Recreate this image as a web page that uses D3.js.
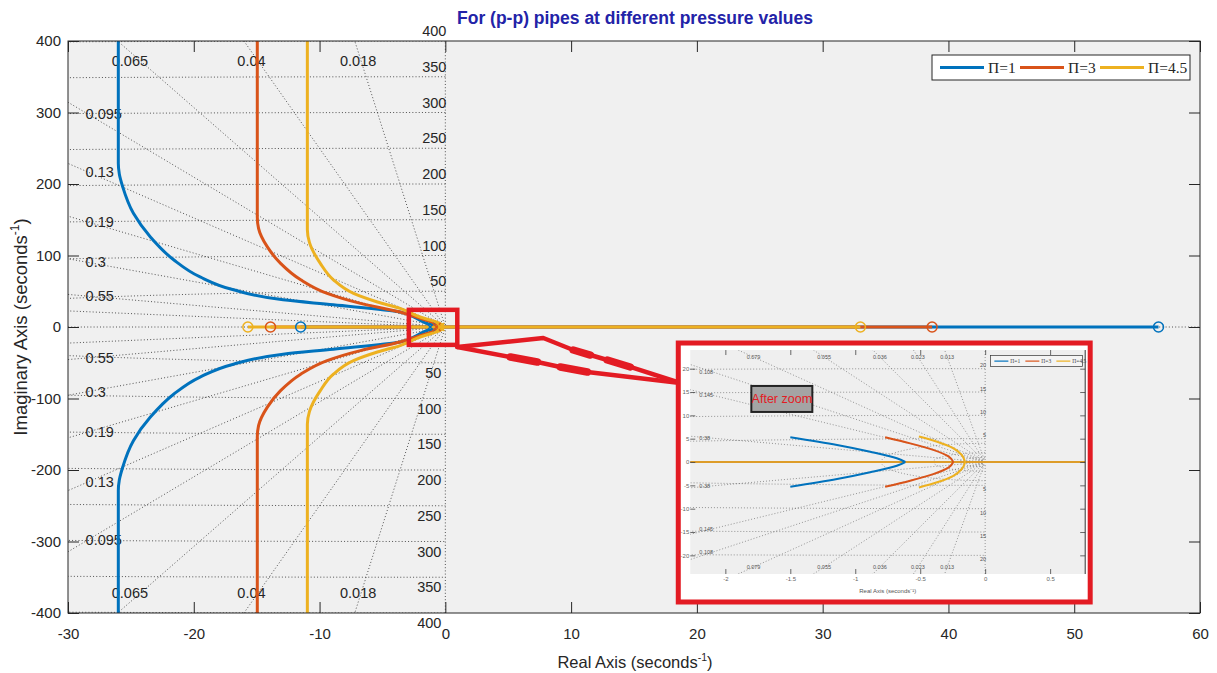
<!DOCTYPE html>
<html><head><meta charset="utf-8">
<script src="https://cdn.jsdelivr.net/npm/d3@7"></script>
<style>
body{margin:0;background:#fff}
svg{display:block}
</style>
</head><body>
<svg id="c" width="1217" height="673" style="font-family:'Liberation Sans',Arial,sans-serif"></svg>
<script>
// ---------------- DATA ----------------
const seriesLabels = ["Π=1", "Π=3", "Π=4.5"];
const seriesColors = ["#0072BD", "#D95319", "#EDB120"];

// upper complex branches (real, imag); lower branches are the mirror image
const branchPi1 = [[-26.0,400],[-26.0,229],[-25.92,214],[-25.65,196],[-24.8,159],[-23.45,126],[-21.6,94],[-19.5,70],[-16.85,52],[-12.9,38],[-8.9,31],[-3.6,21],[-2.4,13],[-1.5,5.3],[-0.885,2.2],[-0.615,0]];
const branchPi3 = [[-14.95,400],[-14.95,154],[-14.85,138],[-14.15,112],[-13.1,89],[-11.5,66],[-9.4,47],[-6.75,33],[-3.6,21],[-2.0,12],[-0.77,5.3],[-0.4,2.6],[-0.245,0]];
const branchPi45 = [[-10.97,400],[-10.97,136],[-10.8,118],[-9.94,89],[-8.9,66],[-7.3,47],[-5.4,35],[-3.6,26],[-2.0,14],[-0.51,5.45],[-0.245,2.95],[-0.154,0]];
const branches = [branchPi1, branchPi3, branchPi45];

const zerosLeft  = [-11.5, -13.9, -15.7];
const zerosRight = [56.7, 38.7, 33.0];
const polesNearOrigin = [-1.2, -0.7, -0.4];

// s-plane grid
const zetaValues = [0.018, 0.04, 0.065, 0.095, 0.13, 0.19, 0.3, 0.55];
const zetaLabels = ["0.018", "0.04", "0.065", "0.095", "0.13", "0.19", "0.3", "0.55"];
const extraZetas = [0.8];
const wnValues = [50, 100, 150, 200, 250, 300, 350, 400];
const wnLabels = ["50", "100", "150", "200", "250", "300", "350", "400"];

const xTicks = [-30, -20, -10, 0, 10, 20, 30, 40, 50, 60];
const yTicks = [-400, -300, -200, -100, 0, 100, 200, 300, 400];

// zoom annotation (main data coordinates)
const zoomBoxX = [-2.9, 0.95], zoomBoxY = [-25, 24];
const insetBoxX = [18.52, 51.27], insetBoxY = [-22.4, -384.6];
const arrowUpper = [[0.95,-28],[7.79,-15.4],[10.17,-32.2],[11.53,-39.2],[12.88,-46.2],[14.7,-55.9],[18.68,-78.3]];
const arrowLower = [[0.95,-28],[5.17,-42],[7.31,-49],[9.14,-55.9],[11.29,-62.9],[18.68,-78.3]];
const arrowBlobs = [[[10.17,-32.2],[11.53,-39.2]],[[12.88,-46.2],[14.7,-55.9]],[[5.17,-42],[7.31,-49]],[[9.14,-55.9],[11.29,-62.9]]];

// inset (zoomed view)
const insetPi1 = [[-1.5,5.3],[-1.14,3.65],[-0.885,2.2],[-0.68,0.8],[-0.615,0]];
const insetPi3 = [[-0.77,5.3],[-0.577,4.0],[-0.4,2.6],[-0.28,1.15],[-0.245,0]];
const insetPi45 = [[-0.51,5.45],[-0.37,4.35],[-0.245,2.95],[-0.18,1.5],[-0.154,0]];
const insetBranches = [insetPi1, insetPi3, insetPi45];
const insetZetas = [0.013, 0.023, 0.036, 0.055, 0.079, 0.108, 0.145, 0.38];
const insetZetaLabels = ["0.013", "0.023", "0.036", "0.055", "0.079", "0.108", "0.145", "0.38"];
const insetWn = [5, 10, 15, 20];
const insetXTicks = [-2, -1.5, -1, -0.5, 0, 0.5];
const insetYTicks = [-20, -15, -10, -5, 0, 5, 10, 15, 20];

// ---------------- CHART ----------------
const svg = d3.select("#c");
const x = d3.scaleLinear().domain([-30, 60]).range([68, 1200]);
const y = d3.scaleLinear().domain([-400, 400]).range([613, 41]);
const [XL, XR] = x.range(), [YB, YT] = y.range();
const ink = "#262626";
const SERIF = "'Liberation Serif','Times New Roman',serif";

const defs = svg.append("defs");
defs.append("clipPath").attr("id", "clipMain").append("rect")
  .attr("x", XL).attr("y", YT).attr("width", XR - XL).attr("height", YB - YT);

svg.append("rect").attr("x", XL).attr("y", YT).attr("width", XR - XL).attr("height", YB - YT).attr("fill", "#f0f0f0");

const line = d3.line().x(d => x(d[0])).y(d => y(d[1]));
const smooth = d3.line().x(d => x(d[0])).y(d => y(d[1])).curve(d3.curveMonotoneY);
const byY = pts => pts.slice().sort((a, b) => a[1] - b[1]);

// grid
const grid = svg.append("g").attr("clip-path", "url(#clipMain)")
  .attr("fill", "none").attr("stroke", "#2a2a2a").attr("stroke-width", 0.8).attr("stroke-dasharray", "1,2.2");
zetaValues.concat(extraZetas).forEach(z => {
  const r = 500, a = -z * r, b = Math.sqrt(1 - z * z) * r;
  grid.append("path").attr("d", line([[0, 0], [a, b]]));
  grid.append("path").attr("d", line([[0, 0], [a, -b]]));
});
wnValues.forEach(w => {
  const pts = d3.range(90, 270.001, 0.5).map(t => [w * Math.cos(t * Math.PI / 180), w * Math.sin(t * Math.PI / 180)]);
  grid.append("path").attr("d", line(pts));
});
grid.append("path").attr("d", line([[0, -400], [0, 400]]));
grid.append("path").attr("d", line([[-30, 0], [60, 0]]));

// grid labels
const gl = svg.append("g").attr("font-size", 14.5).attr("fill", ink);
zetaValues.forEach((z, i) => {
  const s = Math.sqrt(1 - z * z) / z;
  const yl = 28.4 * s;
  [1, -1].forEach(sg => {
    if (yl < 370) {
      gl.append("text").attr("x", x(-28.6)).attr("y", y(sg * yl)).attr("dominant-baseline", "central").text(zetaLabels[i]);
    } else {
      gl.append("text").attr("x", x(-385 / s)).attr("y", y(sg * 372)).attr("text-anchor", "middle")
        .attr("dominant-baseline", "central").text(zetaLabels[i]);
    }
  });
});
wnValues.forEach((w, i) => {
  gl.append("text").attr("x", x(0) + 1).attr("y", y(w) - 5).attr("text-anchor", "end").text(wnLabels[i]);
  gl.append("text").attr("x", x(0) - 4).attr("y", y(-w) + 15).attr("text-anchor", "end").text(wnLabels[i]);
});

// root locus
const loc = svg.append("g").attr("clip-path", "url(#clipMain)").attr("fill", "none");
branches.forEach((br, i) => {
  const c = seriesColors[i];
  const vx = br[br.length - 1][0];
  loc.append("path").attr("d", line([[zerosLeft[i], 0], [vx, 0]])).attr("stroke", c).attr("stroke-width", 3);
  loc.append("path").attr("d", line([[vx, 0], [zerosRight[i], 0]])).attr("stroke", c).attr("stroke-width", 3);
  loc.append("path").attr("d", smooth(byY(br))).attr("stroke", c).attr("stroke-width", 3);
  loc.append("path").attr("d", smooth(byY(br.map(d => [d[0], -d[1]])))).attr("stroke", c).attr("stroke-width", 3);
});
branches.forEach((br, i) => {
  const c = seriesColors[i];
  [zerosLeft[i], zerosRight[i]].forEach(zx => {
    loc.append("circle").attr("cx", x(zx)).attr("cy", y(0)).attr("r", 5).attr("stroke", c).attr("stroke-width", 1.5);
  });
  const px = x(polesNearOrigin[i]), py = y(0);
  loc.append("path").attr("d", `M${px-4},${py-4}L${px+4},${py+4}M${px-4},${py+4}L${px+4},${py-4}`).attr("stroke", c).attr("stroke-width", 1.5);
});

// axes
function styleAxis(g) {
  g.select(".domain").remove();
  g.selectAll("line").attr("stroke", ink);
  g.selectAll("text").attr("fill", ink).attr("font-size", 15).attr("font-family", null);
  g.attr("font-family", null);
}
const fmt = d => String(d);
svg.append("g").attr("transform", `translate(0,${YB})`).call(d3.axisBottom(x).tickValues(xTicks).tickFormat(fmt).tickSizeInner(-11).tickSizeOuter(0).tickPadding(15)).call(styleAxis);
svg.append("g").attr("transform", `translate(0,${YT})`).call(d3.axisTop(x).tickValues(xTicks).tickFormat("").tickSizeInner(-11).tickSizeOuter(0)).call(styleAxis);
svg.append("g").attr("transform", `translate(${XL},0)`).call(d3.axisLeft(y).tickValues(yTicks).tickFormat(fmt).tickSizeInner(-11).tickSizeOuter(0).tickPadding(7)).call(styleAxis);
svg.append("g").attr("transform", `translate(${XR},0)`).call(d3.axisRight(y).tickValues(yTicks).tickFormat("").tickSizeInner(-11).tickSizeOuter(0)).call(styleAxis);
svg.append("rect").attr("x", XL).attr("y", YT).attr("width", XR - XL).attr("height", YB - YT).attr("fill", "none").attr("stroke", ink).attr("stroke-width", 1);

// title & axis labels
svg.append("text").attr("x", 635).attr("y", 24).attr("text-anchor", "middle").attr("font-weight", "bold")
  .attr("font-size", 17.5).attr("fill", "#2323a8").text("For (p-p) pipes at different pressure values");
const xl = svg.append("text").attr("x", 635).attr("y", 668).attr("text-anchor", "middle").attr("font-size", 16.5).attr("fill", ink);
xl.append("tspan").text("Real Axis (seconds");
xl.append("tspan").attr("font-size", 10.5).attr("dy", -7).text("-1");
xl.append("tspan").attr("dy", 7).text(")");
const yl = svg.append("text").attr("transform", "translate(27,327) rotate(-90)").attr("text-anchor", "middle").attr("font-size", 18.5).attr("fill", ink);
yl.append("tspan").text("Imaginary Axis (seconds");
yl.append("tspan").attr("font-size", 12).attr("dy", -8).text("-1");
yl.append("tspan").attr("dy", 8).text(")");

// legend
const lg = svg.append("g");
lg.append("rect").attr("x", 932).attr("y", 55).attr("width", 258).attr("height", 25).attr("fill", "#fff").attr("stroke", ink).attr("stroke-width", 1);
const legX = [940, 1020, 1100];
seriesLabels.forEach((s, i) => {
  lg.append("line").attr("x1", legX[i]).attr("x2", legX[i] + 44).attr("y1", 67.5).attr("y2", 67.5).attr("stroke", seriesColors[i]).attr("stroke-width", 3);
  lg.append("text").attr("x", legX[i] + 48).attr("y", 73).style("font-family", SERIF).attr("font-size", 15.5).attr("fill", ink).text(s);
});

// zoom box + arrow
const red = "#e31b23";
svg.append("rect").attr("x", x(zoomBoxX[0])).attr("y", y(zoomBoxY[1])).attr("width", x(zoomBoxX[1]) - x(zoomBoxX[0]))
  .attr("height", y(zoomBoxY[0]) - y(zoomBoxY[1])).attr("fill", "none").attr("stroke", red).attr("stroke-width", 4.5);
[arrowUpper, arrowLower].forEach(a => svg.append("path").attr("d", line(a)).attr("fill", "none").attr("stroke", red).attr("stroke-width", 4.5).attr("stroke-linejoin", "round").attr("stroke-linecap", "round"));
arrowBlobs.forEach(a => svg.append("path").attr("d", line(a)).attr("fill", "none").attr("stroke", red).attr("stroke-width", 7.5).attr("stroke-linecap", "round"));

// ---------------- INSET ----------------
const bx0 = x(insetBoxX[0]), bx1 = x(insetBoxX[1]), by0 = y(insetBoxY[0]), by1 = y(insetBoxY[1]);
const ins = svg.append("g");
ins.append("rect").attr("x", bx0).attr("y", by0).attr("width", bx1 - bx0).attr("height", by1 - by0).attr("fill", "#fff");
const ix = d3.scaleLinear().domain([-2.27, 0.77]).range([bx0 + 12, bx1 - 5]);
const iy = d3.scaleLinear().domain([-24, 24]).range([by0 + 231, by0 + 7]);
const [iXL, iXR] = ix.range(), [iYB, iYT] = iy.range();
defs.append("clipPath").attr("id", "clipInset").append("rect").attr("x", iXL).attr("y", iYT).attr("width", iXR - iXL).attr("height", iYB - iYT);
ins.append("rect").attr("x", iXL).attr("y", iYT).attr("width", iXR - iXL).attr("height", iYB - iYT).attr("fill", "#efefef");
const iline = d3.line().x(d => ix(d[0])).y(d => iy(d[1]));
const ismooth = d3.line().x(d => ix(d[0])).y(d => iy(d[1])).curve(d3.curveMonotoneY);
const ig = ins.append("g").attr("clip-path", "url(#clipInset)").attr("fill", "none").attr("stroke", "#555").attr("stroke-width", 0.6).attr("stroke-dasharray", "1,2");
insetZetas.forEach(z => {
  const r = 40, a = -z * r, b = Math.sqrt(1 - z * z) * r;
  ig.append("path").attr("d", iline([[0, 0], [a, b]]));
  ig.append("path").attr("d", iline([[0, 0], [a, -b]]));
});
insetWn.forEach(w => {
  const pts = d3.range(90, 270.001, 0.5).map(t => [w * Math.cos(t * Math.PI / 180), w * Math.sin(t * Math.PI / 180)]);
  ig.append("path").attr("d", iline(pts));
});
ig.append("path").attr("d", iline([[0, -24], [0, 24]]));
[0.5, 1, 2].forEach(w => {
  const pts = d3.range(90, 270.001, 1).map(t => [w * 0.4 * Math.cos(t * Math.PI / 180), w * 2 * Math.sin(t * Math.PI / 180)]);
  ig.append("path").attr("d", iline(pts));
});
const itx = ins.append("g").attr("font-size", 5.5).attr("fill", "#555");
insetZetas.forEach((z, i) => {
  const s = Math.sqrt(1 - z * z) / z;
  const xt = -22.5 / s;
  [1, -1].forEach(sg => {
    if (xt > -2.15) itx.append("text").attr("x", ix(xt)).attr("y", iy(sg * 22.6)).attr("text-anchor", "middle").attr("dominant-baseline", "central").text(insetZetaLabels[i]);
    else itx.append("text").attr("x", ix(-2.2)).attr("y", iy(sg * 2.1 * s)).attr("dominant-baseline", "central").text(insetZetaLabels[i]);
  });
});
insetWn.forEach(w => {
  itx.append("text").attr("x", ix(0) + 1).attr("y", iy(w) - 1.5).attr("text-anchor", "end").text(w);
  itx.append("text").attr("x", ix(0) + 1).attr("y", iy(-w) + 6).attr("text-anchor", "end").text(w);
});
const il = ins.append("g").attr("clip-path", "url(#clipInset)").attr("fill", "none");
insetBranches.forEach((br, i) => {
  il.append("path").attr("d", iline([[-2.27, 0], [0.77, 0]])).attr("stroke", seriesColors[i]).attr("stroke-width", 1.5);
});
insetBranches.forEach((br, i) => {
  il.append("path").attr("d", ismooth(byY(br))).attr("stroke", seriesColors[i]).attr("stroke-width", 2);
  il.append("path").attr("d", ismooth(byY(br.map(d => [d[0], -d[1]])))).attr("stroke", seriesColors[i]).attr("stroke-width", 2);
});
function styleInset(g) { g.select(".domain").remove(); g.attr("font-family", null); g.selectAll("line").attr("stroke", "#444").attr("stroke-width", 0.8); g.selectAll("text").attr("fill", "#666").attr("font-size", 6); }
const ifmt = d => String(d);
ins.append("g").attr("transform", `translate(0,${iYB})`).call(d3.axisBottom(ix).tickValues(insetXTicks).tickFormat(ifmt).tickSizeInner(-5).tickSizeOuter(0).tickPadding(3)).call(styleInset);
ins.append("g").attr("transform", `translate(0,${iYT})`).call(d3.axisTop(ix).tickValues(insetXTicks).tickFormat("").tickSizeInner(-5).tickSizeOuter(0)).call(styleInset);
ins.append("g").attr("transform", `translate(${iXL},0)`).call(d3.axisLeft(iy).tickValues(insetYTicks).tickFormat(ifmt).tickSizeInner(-5).tickSizeOuter(0).tickPadding(1)).call(styleInset);
ins.append("g").attr("transform", `translate(${iXR},0)`).call(d3.axisRight(iy).tickValues(insetYTicks).tickFormat("").tickSizeInner(-5).tickSizeOuter(0)).call(styleInset);
ins.append("line").attr("x1", iXR).attr("x2", iXR).attr("y1", iYT).attr("y2", iYB).attr("stroke", "#333").attr("stroke-width", 1);
ins.append("text").attr("x", (iXL + iXR) / 2).attr("y", iYB + 19).attr("text-anchor", "middle").attr("font-size", 6).attr("fill", "#555").text("Real Axis (seconds⁻¹)");
// inset legend
const ilg = ins.append("g");
ilg.append("rect").attr("x", ix(0.04)).attr("y", iy(22.8)).attr("width", ix(0.75) - ix(0.04)).attr("height", 11).attr("fill", "#f4f4f4").attr("stroke", "#333").attr("stroke-width", 0.7);
seriesLabels.forEach((s, i) => {
  const lx = ix(0.04) + 4 + i * 31;
  const ly = iy(22.8) + 5.5;
  ilg.append("line").attr("x1", lx).attr("x2", lx + 14).attr("y1", ly).attr("y2", ly).attr("stroke", seriesColors[i]).attr("stroke-width", 1.2);
  ilg.append("text").attr("x", lx + 16).attr("y", ly + 2).attr("font-size", 5.5).style("font-family", SERIF).attr("fill", "#444").text(s);
});
// "After zoom" tag
ins.append("rect").attr("x", ix(-1.8)).attr("y", iy(16.3)).attr("width", 61).attr("height", 26).attr("fill", "#a4a4a4").attr("stroke", "#222").attr("stroke-width", 2);
ins.append("text").attr("x", ix(-1.8) + 30.5).attr("y", iy(16.3) + 13.5).attr("text-anchor", "middle").attr("dominant-baseline", "central")
  .attr("font-size", 12.5).attr("fill", red).text("After zoom");
// red frame
ins.append("rect").attr("x", bx0).attr("y", by0).attr("width", bx1 - bx0).attr("height", by1 - by0).attr("fill", "none").attr("stroke", red).attr("stroke-width", 5);
</script>
</body></html>
